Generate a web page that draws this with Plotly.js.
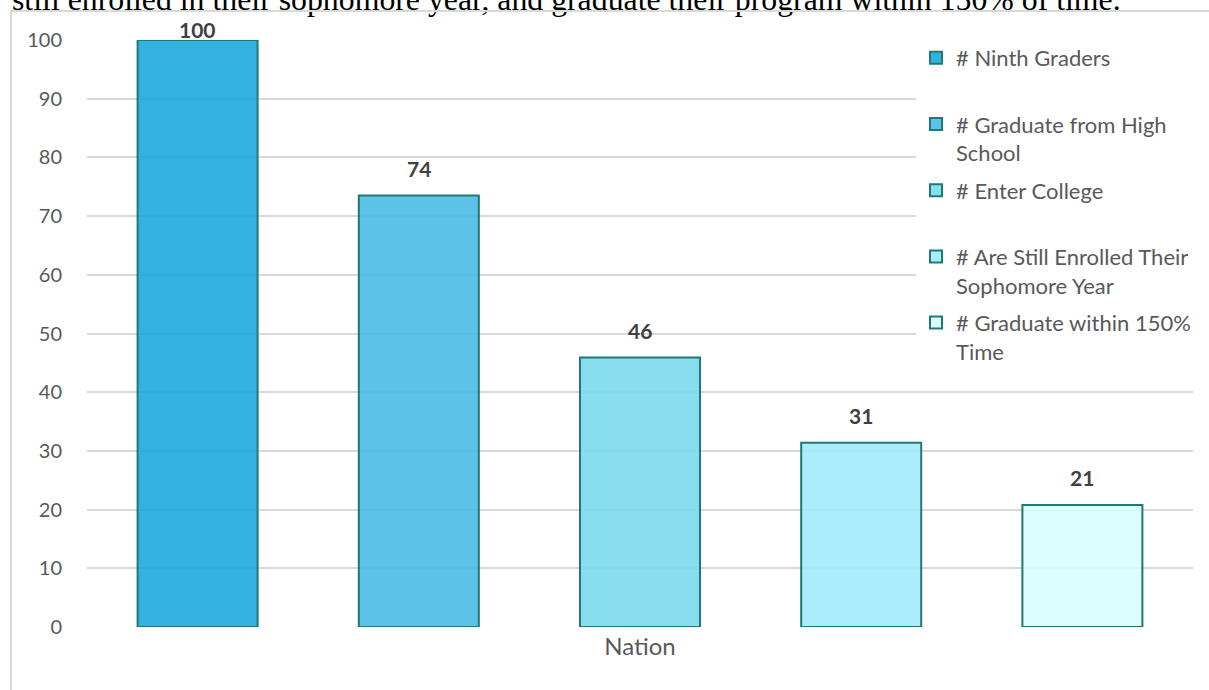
<!DOCTYPE html>
<html>
<head>
<meta charset="utf-8">
<script src="https://cdn.plot.ly/plotly-3.0.1.min.js"></script>
<style>
  html, body { margin: 0; padding: 0; background: #ffffff; overflow: hidden; }
  #wrap { position: relative; width: 1209px; height: 690px; overflow: hidden; }
  #cut { position: absolute; left: 12px; top: -16px; font-family: "Liberation Serif", "Times New Roman", serif;
         font-size: 31.8px; line-height: 32px; color: #000; white-space: nowrap; }
  #frame { position: absolute; left: 10px; top: 10px; width: 1300px; height: 800px;
           border-left: 2px solid #d9d9d9; border-top: 2px solid #d9d9d9; }
  #chart { position: absolute; left: 0; top: 0; width: 1209px; height: 690px; }
</style>
</head>
<body>
<div id="wrap">
  <div id="cut">still enrolled in their sophomore year, and graduate their program within 150% of time.</div>
  <div id="frame"></div>
  <div id="chart"></div>
</div>
<script>
// ---- data ----
const category = ["Nation"];
const seriesNames = [
  "# Ninth Graders",
  "# Graduate from High<br>School",
  "# Enter College",
  "# Are Still Enrolled Their<br>Sophomore Year",
  "# Graduate within 150%<br>Time"
];
const seriesValues = [100, 73.5, 45.9, 31.4, 20.8];
const valueLabels = ["100", "74", "46", "31", "21"];
const yTicks = [0, 10, 20, 30, 40, 50, 60, 70, 80, 90, 100];

// ---- styles ----
const fills = ["rgba(23,166,220,0.88)", "rgba(70,185,228,0.88)", "rgba(120,216,236,0.88)",
               "rgba(158,232,252,0.88)", "rgba(216,253,253,0.88)"];
const edge = "#1F7A72";
const FONT = "Lato, 'Open Sans', sans-serif";

const W = 1209, H = 690;
const M = { l: 87, r: 16, t: 40, b: 63, autoexpand: false };
const plotW = W - M.l - M.r;
const plotH = H - M.t - M.b;
const nS = seriesValues.length;
const slot = plotW / nS;
const pxPerUnit = plotH / 100;

const traces = seriesValues.map((v, i) => {
  const label = seriesNames[i].indexOf("<br>") >= 0 ? seriesNames[i] : seriesNames[i] + "<br>\u00A0";
  return {
    type: "bar",
    name: label,
    x: category,
    y: [v],
    legendgroup: "g" + i,
    marker: { color: fills[i], line: { color: edge, width: 2 } },
    hoverinfo: "none"
  };
});

const annotations = seriesValues.map((v, i) => ({
  xref: "x", yref: "y",
  x: category[0], y: v,
  xshift: (i - (nS - 1) / 2) * slot,
  yshift: Math.min(13, (100 - v) * pxPerUnit - 4),
  yanchor: "bottom", xanchor: "center",
  showarrow: false,
  text: "<b>" + valueLabels[i] + "</b>",
  font: { family: FONT, size: 21, color: "#404040" }
}));

const layout = {
  width: W, height: H,
  margin: M,
  paper_bgcolor: "rgba(0,0,0,0)",
  plot_bgcolor: "rgba(0,0,0,0)",
  barmode: "group",
  bargap: 0,
  bargroupgap: 1 - 120 / slot,
  showlegend: true,
  legend: {
    x: (916 - M.l) / plotW, xanchor: "left",
    y: 1 + 3 / plotH, yanchor: "top",
    bgcolor: "#ffffff",
    font: { family: FONT, size: 22, color: "#595959" },
    valign: "top",
    tracegroupgap: 6
  },
  xaxis: {
    type: "category",
    showgrid: false, zeroline: false, showline: false,
    ticks: "",
    tickfont: { family: FONT, size: 24, color: "#595959" },
    ticklabelstandoff: 3
  },
  yaxis: {
    range: [0, 100],
    tickvals: yTicks,
    showgrid: true, gridcolor: "#d9d9d9", gridwidth: 2,
    zeroline: false, showline: false,
    ticks: "",
    tickfont: { family: FONT, size: 20, color: "#595959" },
    ticklabelstandoff: 24
  },
  annotations: annotations,
  font: { family: FONT }
};

Plotly.newPlot("chart", traces, layout, { displayModeBar: false, staticPlot: true });
</script>
</body>
</html>
